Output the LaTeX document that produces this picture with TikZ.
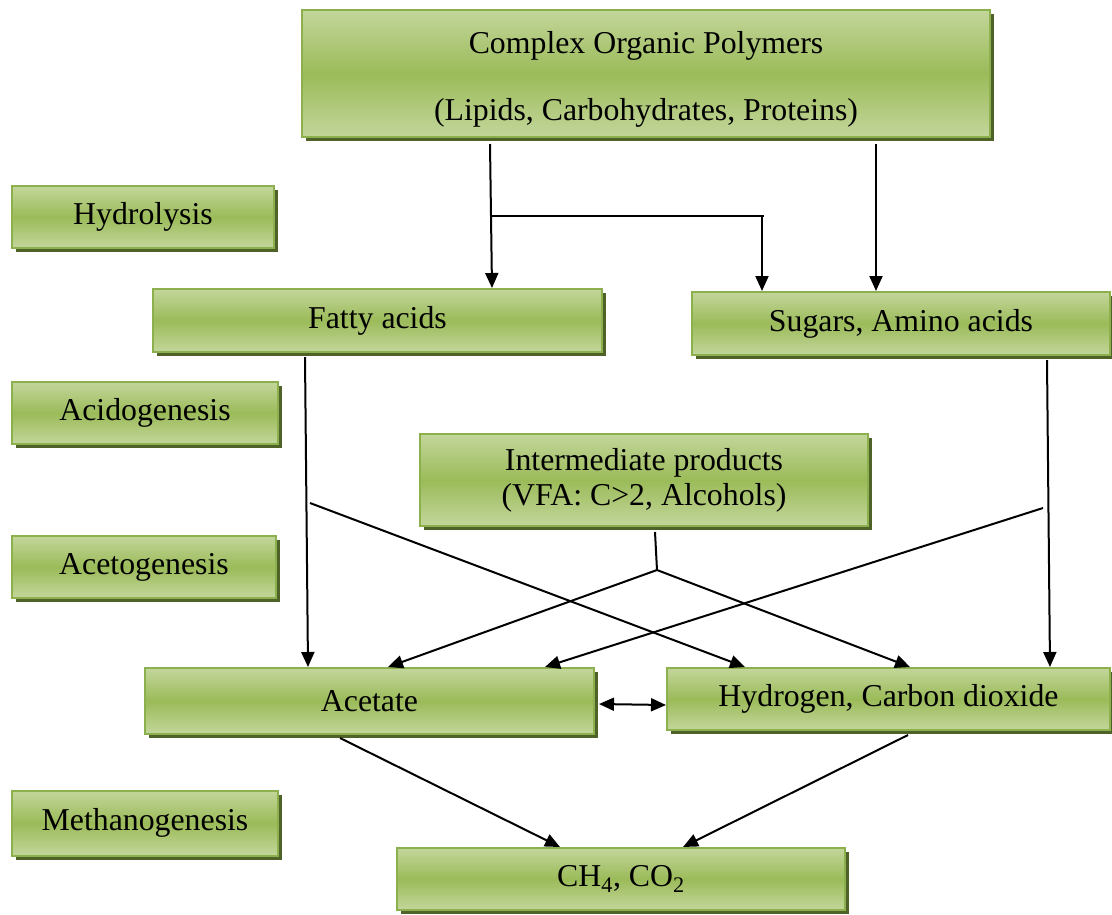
\documentclass[tikz,border=0pt]{standalone}
\usepackage{fontspec}
\setmainfont{Liberation Serif}
\usetikzlibrary{shadows,arrows.meta}
\definecolor{lightg}{HTML}{C3D69B}
\definecolor{midg}{HTML}{9BBB59}
\definecolor{edgeg}{HTML}{8DB04E}
\definecolor{shadg}{HTML}{4F6228}
\begin{document}
\begin{tikzpicture}[x=1pt,y=-1pt,
  gbox/.style={rectangle, inner sep=0pt, draw=edgeg, line width=2pt,
    top color=lightg, bottom color=lightg, middle color=midg,
    drop shadow={shadow xshift=4pt, shadow yshift=-4pt, fill=shadg, opacity=1},
    font=\fontsize{31.8}{35}\selectfont, align=center},
  conn/.style={line width=2pt, draw=black},
  arr/.style={conn, -{Triangle[length=15pt,width=13pt]}},
  darr/.style={conn, {Triangle[length=15pt,width=13pt]}-{Triangle[length=15pt,width=13pt]}}]
\useasboundingbox (0,0) rectangle (1112,914);

\node[gbox, minimum width=688pt, minimum height=127pt] (top) at (646,73.5)
  {\rule{0pt}{33pt}Complex Organic Polymers\\[32pt](Lipids, Carbohydrates, Proteins)};
\node[gbox, minimum width=262pt, minimum height=62pt] (hydro) at (143,217) {Hydrolysis};
\node[gbox, minimum width=449pt, minimum height=63pt] (fatty) at (377.5,320.5) {Fatty acids};
\node[gbox, minimum width=418pt, minimum height=63pt] (sugars) at (901,323.5) {Sugars, Amino acids};
\node[gbox, minimum width=266pt, minimum height=62pt] (acido) at (145,413) {Acidogenesis};
\node[gbox, minimum width=448pt, minimum height=92pt] (inter) at (644,480)
  {Intermediate products\\ (VFA: C>2, Alcohols)};
\node[gbox, minimum width=264pt, minimum height=62pt] (aceto) at (144,567) {Acetogenesis};
\node[gbox, minimum width=449pt, minimum height=66pt] (acetate) at (369.5,701) {Acetate};
\node[gbox, minimum width=443pt, minimum height=62pt] (hydrogen) at (888.5,699) {Hydrogen, Carbon dioxide};
\node[gbox, minimum width=266pt, minimum height=65pt] (methano) at (145,823) {Methanogenesis};
\node[gbox, minimum width=448pt, minimum height=62pt] (ch4) at (621,879) {CH\textsubscript{4}, CO\textsubscript{2}};

% hydrolysis connectors
\coordinate (br1) at (491,216);
\coordinate (br2) at (764,216);
\draw[arr] ([xshift=-156pt,yshift=-6pt]top.south) -- ([xshift=114.5pt]fatty.north);
\draw[conn] (br1) -- (br2);
\draw[arr] ([xshift=-2pt]br2) -- ([xshift=-139pt]sugars.north);
\draw[arr] ([xshift=230pt,yshift=-6pt]top.south) -- ([xshift=-25pt]sugars.north);

% acidogenesis / acetogenesis connectors
\coordinate (fb) at (310,503);
\coordinate (sb) at (1043,508);
\coordinate (ib) at (657,570);
\draw[arr] ([xshift=-72.5pt,yshift=-4pt]fatty.south) -- ([xshift=-61.5pt]acetate.north);
\draw[arr] (fb) -- ([xshift=-143.5pt]hydrogen.north);
\draw[arr] ([xshift=146pt,yshift=-4pt]sugars.south) -- ([xshift=161.5pt]hydrogen.north);
\draw[arr] (sb) -- ([xshift=175.5pt]acetate.north);
\draw[conn] ([xshift=11pt,yshift=-5pt]inter.south) -- (ib);
\draw[arr] (ib) -- ([xshift=18.5pt]acetate.north);
\draw[arr] (ib) -- ([xshift=21.5pt]hydrogen.north);

% exchange
\draw[darr] ([xshift=4pt,yshift=-3pt]acetate.east) -- ([yshift=-6pt]hydrogen.west);

% methanogenesis
\draw[arr] ([xshift=-29.5pt,yshift=-3pt]acetate.south) -- ([xshift=-61pt]ch4.north);
\draw[arr] ([xshift=19.5pt,yshift=-4pt]hydrogen.south) -- ([xshift=62pt]ch4.north);
\end{tikzpicture}
\end{document}
